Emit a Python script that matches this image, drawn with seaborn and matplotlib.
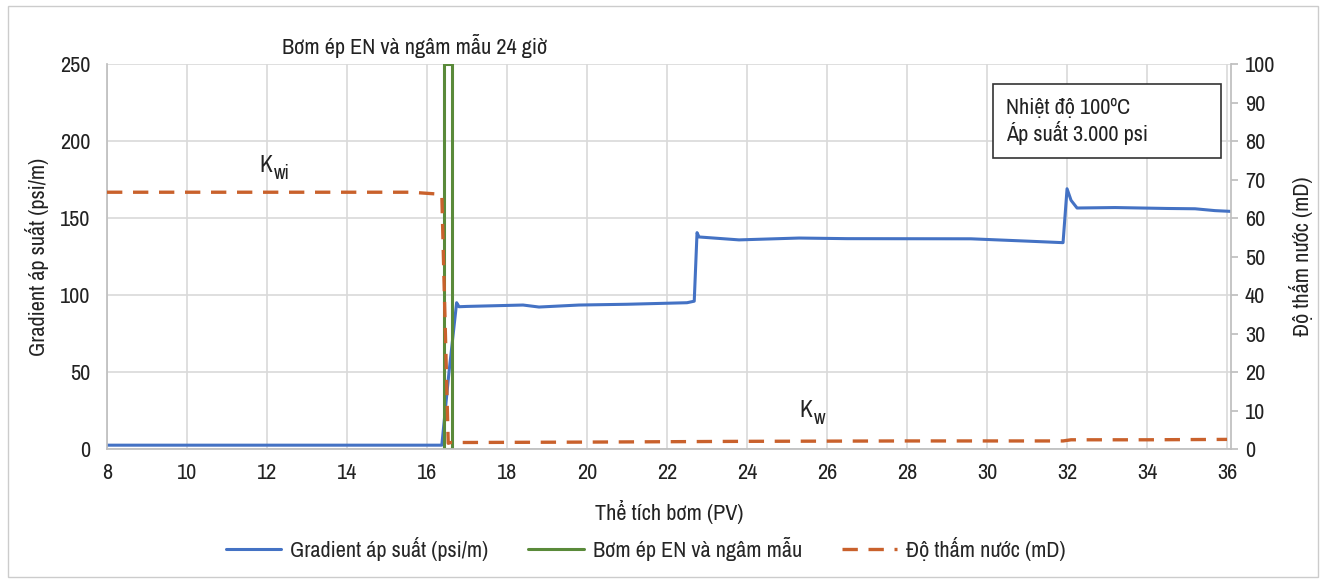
import matplotlib
matplotlib.use("Agg")
import matplotlib.pyplot as plt
from matplotlib import font_manager as fm
import seaborn as sns
import pandas as pd
from matplotlib.patches import Rectangle

# Gradient áp suất (psi/m) vs Thể tích bơm (PV)
grad_x = [8.0, 10.0, 12.0, 14.0, 16.0, 16.37, 16.55, 16.74, 16.8, 17.0, 18.4, 18.8, 19.8,
          21.0, 22.5, 22.68, 22.75, 22.8, 23.8, 25.3, 26.5, 29.6, 31.0, 31.9,
          32.0, 32.1, 32.25, 33.2, 34.5, 35.2, 35.7, 36.1]
grad_y = [2.5, 2.5, 2.5, 2.5, 2.5, 2.5, 50.0, 95.0, 92.4, 92.6, 93.5, 92.2, 93.5,
          94.0, 95.0, 96.0, 140.5, 137.7, 135.8, 137.0, 136.6, 136.5, 135.0, 134.0,
          169.0, 161.5, 156.5, 156.8, 156.2, 156.0, 154.8, 154.3]

# Bơm ép EN và ngâm mẫu (khung)
en_x = [16.43, 16.43, 16.62, 16.62, 16.43]
en_y = [0, 250, 250, 0, 0]

# Độ thấm nước (mD)
perm_x = [8.0, 12.0, 15.6, 16.3, 16.37, 16.53, 16.6, 17.0, 20.0, 22.0, 24.0, 28.0, 31.9, 32.1, 34.0, 36.0]
perm_y = [66.7, 66.7, 66.7, 66.2, 66.0, 1.5, 1.7, 1.7, 1.8, 1.9, 2.0, 2.1, 2.1, 2.4, 2.4, 2.5]

x_ticks = list(range(8, 37, 2))
yl_ticks = list(range(0, 251, 50))
yr_ticks = list(range(0, 101, 10))

C_BLUE = "#4472C4"
C_GREEN = "#5A8A3A"
C_ORANGE = "#C9612C"
C_TEXT = "#222222"

sns.set_theme(style="white")

# pick a condensed font if one is installed
cond = None
for f in fm.fontManager.ttflist:
    if ("narrow" in f.name.lower() or "condensed" in f.name.lower()) and "bold" not in str(f.weight):
        cond = (f.name, "normal")
        break
if cond is None:
    for f in fm.fontManager.ttflist:
        if f.name == "DejaVu Sans" and "condensed" in str(f.stretch).lower():
            cond = ("DejaVu Sans", "condensed")
            break
if cond is not None:
    plt.rcParams["font.family"] = [cond[0], "DejaVu Sans"]
    plt.rcParams["font.stretch"] = cond[1]
    FS = 16
else:
    plt.rcParams["font.family"] = ["DejaVu Sans"]
    FS = 13

fig = plt.figure(figsize=(13.26, 5.83), dpi=100)
ax = fig.add_axes([0.0807, 0.2298, 0.8477, 0.6604])
ax2 = ax.twinx()

d_grad = pd.DataFrame({"x": grad_x, "y": grad_y})
d_en = pd.DataFrame({"x": en_x, "y": en_y})
d_perm = pd.DataFrame({"x": perm_x, "y": perm_y})

sns.lineplot(data=d_grad, x="x", y="y", ax=ax, color=C_BLUE, lw=2.2, sort=False,
             estimator=None, label="Gradient áp suất (psi/m)", legend=False)
sns.lineplot(data=d_en, x="x", y="y", ax=ax, color=C_GREEN, lw=2.2, sort=False,
             estimator=None, label="Bơm ép EN và ngâm mẫu", legend=False)
sns.lineplot(data=d_perm, x="x", y="y", ax=ax2, color=C_ORANGE, lw=2.4, sort=False,
             estimator=None, label="Độ thấm nước (mD)", legend=False)
for l in ax2.get_lines():
    l.set_dashes([4.6, 3.2])
    l.set_dash_capstyle("butt")

ax.set_xlim(8, 36.1)
ax.set_ylim(0, 250)
ax2.set_ylim(0, 100)
ax.set_xticks(x_ticks)
ax.set_yticks(yl_ticks)
ax2.set_yticks(yr_ticks)
ax.grid(True, color="#D9D9D9", lw=1.2)
ax2.grid(False)
ax.set_axisbelow(True)

for a in (ax, ax2):
    for s in a.spines.values():
        s.set_visible(False)
ax.spines["bottom"].set_visible(True)
ax.spines["bottom"].set_color("#BFBFBF")
ax.spines["left"].set_visible(True)
ax.spines["left"].set_color("#BFBFBF")
ax2.spines["right"].set_visible(True)
ax2.spines["right"].set_color("#BFBFBF")

ax.tick_params(axis="x", labelsize=FS, length=0, colors=C_TEXT, pad=10)
ax.tick_params(axis="y", labelsize=FS, length=0, colors=C_TEXT, pad=12)
ax2.tick_params(axis="y", labelsize=FS, length=5, color="#BFBFBF", labelcolor=C_TEXT, pad=5)

ax.set_xlabel("Thể tích bơm (PV)", fontsize=FS, color=C_TEXT, labelpad=12)
ax.set_ylabel("Gradient áp suất (psi/m)", fontsize=FS, color=C_TEXT, labelpad=8)
ax2.set_ylabel("Độ thấm nước (mD)", fontsize=FS, color=C_TEXT, labelpad=10)

ax.text(15.7, 254, "Bơm ép EN và ngâm mẫu 24 giờ", ha="center", va="bottom",
        fontsize=FS, color=C_TEXT)
ax.text(11.8, 184, "K", ha="left", va="center", fontsize=FS + 1, color=C_TEXT)
ax.text(12.17, 179, "wi", ha="left", va="center", fontsize=FS - 2, color=C_TEXT)
ax.text(25.3, 25, "K", ha="left", va="center", fontsize=FS + 1, color=C_TEXT)
ax.text(25.67, 20, "w", ha="left", va="center", fontsize=FS - 2, color=C_TEXT)

ax.add_patch(Rectangle((0.788, 0.755), 0.203, 0.193, transform=ax.transAxes,
                       fill=True, fc="white", ec="#333333", lw=1.2, zorder=5))
ax.text(0.8, 0.851, "Nhiệt độ 100ºC\nÁp suất 3.000 psi", transform=ax.transAxes,
        ha="left", va="center", fontsize=FS, color=C_TEXT, linespacing=1.15, zorder=6)

handles = ax.get_lines()[:2] + ax2.get_lines()[:1]
fig.legend(handles, [h.get_label() for h in handles], loc="center",
           bbox_to_anchor=(0.487, 0.058), ncol=3, frameon=False, fontsize=FS,
           handlelength=2.5, columnspacing=1.8, handletextpad=0.4)

fig.patches.append(Rectangle((0.006, 0.01), 0.988, 0.98, transform=fig.transFigure,
                             fill=False, ec="#CCCCCC", lw=1))
fig.savefig("out.png", dpi=100)
